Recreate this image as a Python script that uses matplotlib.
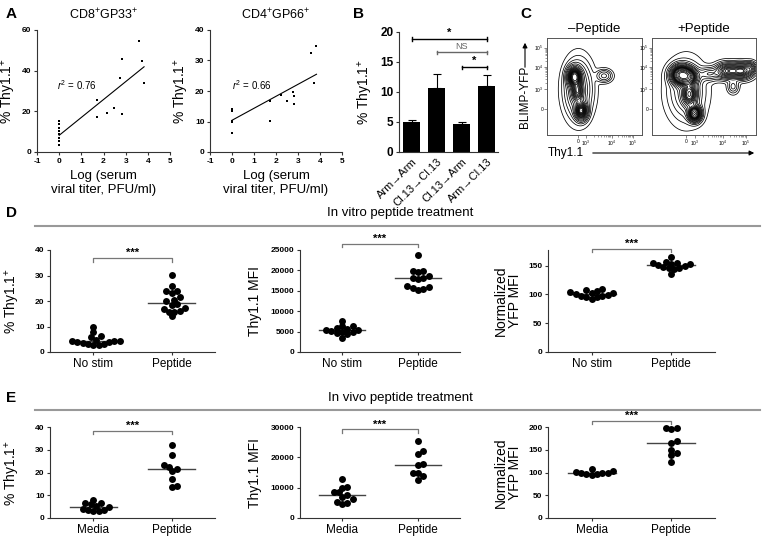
import numpy as np
import matplotlib
matplotlib.use("Agg")
import matplotlib.pyplot as plt
from matplotlib.lines import Line2D
from matplotlib.patches import FancyArrowPatch

plt.rcParams['font.family'] = ['Liberation Sans', 'DejaVu Sans']
plt.rcParams['mathtext.fontset'] = 'custom'
plt.rcParams['mathtext.rm'] = 'Liberation Sans'
plt.rcParams['mathtext.it'] = 'Liberation Sans:italic'

# ---- panel A: viral titer vs % Thy1.1+
cd8_x = [0, 0, 0, 0, 0, 0, 0, 0, 1.69, 1.69, 2.17, 2.48, 2.74, 2.82, 2.82, 3.61, 3.72, 3.83]
cd8_y = [3.5, 5.4, 7.1, 8.7, 10.4, 12.0, 13.7, 15.3, 25.5, 17.0, 19.4, 21.4, 36.5, 45.7, 18.8, 54.6, 44.6, 33.7]
cd8_fit = (8.2, 8.8)        # intercept, slope
cd8_r2 = "0.76"

cd4_x = [0, 0, 0, 0, 0, 1.72, 1.72, 2.21, 2.51, 2.76, 2.82, 2.83, 3.61, 3.72, 3.84]
cd4_y = [14.0, 13.3, 10.2, 9.9, 6.3, 16.8, 10.1, 18.6, 16.7, 19.7, 18.2, 15.9, 32.3, 22.7, 34.7]
cd4_fit = (10.4, 3.93)
cd4_r2 = "0.66"

# ---- panel B: bars
b_labels = ["Arm\u2192Arm", "Cl.13\u2192Cl.13", "Cl.13\u2192Arm", "Arm\u2192Cl.13"]
b_means = [5.0, 10.65, 4.63, 11.05]
b_err = [0.35, 2.3, 0.42, 1.85]
b_sig = [(0, 3, 18.8, "*", "k"), (1, 3, 16.6, "NS", "#666666"), (2, 3, 14.1, "*", "k")]

# ---- panel C: contour populations (x, y, sx, sy, weight) in plot fractions
c_neg = [(0.29, 0.60, 0.04, 0.055, 1.0), (0.32, 0.45, 0.035, 0.06, 0.5),
         (0.36, 0.25, 0.035, 0.05, 0.8), (0.33, 0.47, 0.08, 0.16, 0.2),
         (0.60, 0.61, 0.045, 0.035, 0.12)]
c_pos = [(0.28, 0.62, 0.055, 0.055, 1.0), (0.36, 0.60, 0.05, 0.05, 0.5),
         (0.36, 0.42, 0.04, 0.07, 0.5), (0.41, 0.22, 0.035, 0.045, 0.8),
         (0.33, 0.45, 0.10, 0.17, 0.15), (0.72, 0.66, 0.06, 0.045, 0.45),
         (0.86, 0.66, 0.06, 0.045, 0.5), (0.95, 0.69, 0.03, 0.035, 0.2),
         (0.78, 0.50, 0.03, 0.04, 0.1), (0.55, 0.63, 0.06, 0.04, 0.15)]
c_levels = [0.99, 0.97, 0.94, 0.9, 0.85, 0.8, 0.74, 0.68, 0.62, 0.56, 0.5,
            0.44, 0.38, 0.32, 0.26, 0.2, 0.15, 0.1, 0.06]
c_xticks = [0.33, 0.41, 0.68, 0.90]
c_yticks = [0.27, 0.47, 0.70, 0.90]
c_ticklabels = ["0", "$10^3$", "$10^4$", "$10^5$"]

# ---- panel D: in vitro
d_cats = ["No stim", "Peptide"]
d_pct = [[9.8, 7.7, 6.2, 5.8, 4.7, 4.5, 4.3, 4.2, 3.9, 3.8, 3.6, 3.3, 3.0, 2.9, 2.8],
         [30.3, 25.7, 24.0, 24.0, 23.3, 21.7, 20.5, 20.1, 18.7, 18.6, 17.4, 16.7, 16.2, 15.8, 15.8, 14.0]]
d_mfi = [[7700, 6400, 6300, 5900, 5700, 5500, 5300, 5200, 5000, 4800, 4600, 4300, 3500],
         [23800, 19860, 19860, 19530, 18690, 18100, 18100, 17850, 16160, 16000, 15570, 15400, 15150]]
d_yfp = [[110, 107, 106, 104, 102, 102, 100, 99, 98, 97, 96, 95, 92],
         [165, 157, 155, 154, 153, 152, 151, 150, 148, 146, 145, 144, 135]]

# ---- panel E: in vivo
e_cats = ["Media", "Peptide"]
e_pct = [[8.1, 6.8, 6.4, 6.0, 5.3, 4.8, 3.9, 3.7, 3.5, 3.2, 3.0],
         [32.3, 27.5, 23.3, 22.5, 21.4, 20.5, 17.0, 14.2, 13.5]]
e_mfi = [[12700, 10300, 10000, 8600, 8500, 7500, 7000, 6300, 5200, 5000, 4600],
         [25400, 22100, 21200, 17700, 17600, 15000, 14700, 13700, 12500]]
e_yfp = [[108, 104, 102, 100, 99, 98, 97, 96, 94],
         [198.6, 198.6, 194.6, 169.5, 164.7, 149.2, 143.7, 137.6, 124]]

W, H = 764, 543
fig = plt.figure(figsize=(W / 100, H / 100), dpi=100)


def px_axes(l, t, r, b):
    return fig.add_axes([l / W, 1 - b / H, (r - l) / W, (b - t) / H])


def prism(ax, size=6):
    for s in ['top', 'right']:
        ax.spines[s].set_visible(False)
    for s in ['left', 'bottom']:
        ax.spines[s].set_linewidth(0.8)
        ax.spines[s].set_color('#333333')
    ax.tick_params(length=2.5, width=0.8, labelsize=size, pad=1.5, color='#333333')
    for t in ax.get_xticklabels() + ax.get_yticklabels():
        t.set_fontweight('bold')


def panel_label(x, y, s):
    fig.text(x / W, 1 - y / H, s, fontsize=11, fontweight='heavy', ha='left', va='center')


# ================= A
for (l, r), xs, ys, fit, r2, title, ymax, yt, lab in [
        ((37, 170), cd8_x, cd8_y, cd8_fit, cd8_r2, "CD8$^{+}$GP33$^{+}$", 60, [0, 20, 40, 60], (-0.1, 33)),
        ((210, 342), cd4_x, cd4_y, cd4_fit, cd4_r2, "CD4$^{+}$GP66$^{+}$", 40, [0, 10, 20, 30, 40], (0.0, 22))]:
    ax = px_axes(l, 30, r, 152)
    ax.scatter(xs, ys, marker='s', s=3, c='k', linewidths=0)
    xx = np.array([0, max(xs)])
    ax.plot(xx, fit[0] + fit[1] * xx, color='k', lw=0.8)
    ax.set_xlim(-1, 5)
    ax.set_ylim(0, ymax)
    ax.set_xticks(range(-1, 6))
    ax.set_xticklabels([str(v) for v in range(-1, 6)])
    ax.set_yticks(yt)
    prism(ax)
    ax.text(lab[0], lab[1], "$r^2$ = " + r2, fontsize=7, va='center')
    ax.set_title(title, fontsize=9, pad=8)
    ax.set_ylabel("% Thy1.1$^{+}$", fontsize=10, labelpad=3)
    ax.set_xlabel("Log (serum\nviral titer, PFU/ml)", fontsize=9.5, labelpad=4, linespacing=1.2)
panel_label(6, 14, "A")

# ================= B
ax = px_axes(399, 32, 498, 152)
bx = np.arange(len(b_means))
ax.bar(bx, b_means, width=0.67, color='k',
       yerr=[np.zeros(len(b_err)), b_err], error_kw=dict(ecolor='k', elinewidth=0.8, capsize=3, capthick=0.8))
ax.set_xlim(-0.5, 3.45)
ax.set_ylim(0, 20)
ax.set_yticks([0, 5, 10, 15, 20])
ax.set_xticks(bx)
ax.set_xticklabels(b_labels, rotation=45, ha='right', rotation_mode='anchor')
prism(ax, size=8.5)
for t in ax.get_xticklabels():
    t.set_fontweight('normal')
    t.set_fontsize(8)
ax.tick_params(axis='x', length=0, pad=3)
ax.set_ylabel("% Thy1.1$^{+}$", fontsize=10, labelpad=4)
for i0, i1, yv, txt, col in b_sig:
    ax.plot([i0, i1], [yv, yv], color=col, lw=1.0, clip_on=False)
    ax.plot([i0, i0], [yv - 0.3, yv + 0.3], color=col, lw=1.0, clip_on=False)
    ax.plot([i1, i1], [yv - 0.3, yv + 0.3], color=col, lw=1.0, clip_on=False)
    ax.text((i0 + i1) / 2, yv + 0.2, txt, ha='center', va='bottom',
            fontsize=8 if txt == "*" else 6.5, fontweight='bold' if txt == "*" else 'normal', color=col)
panel_label(353, 14, "B")

# ================= C
gx = np.linspace(0, 1, 240)
GX, GY = np.meshgrid(gx, gx)
for (l, r), pops, title in [((547, 642), c_neg, "\u2013Peptide"), ((652, 756), c_pos, "+Peptide")]:
    ax = px_axes(l, 38, r, 135)
    Z = np.zeros_like(GX)
    for cx, cy, sx, sy, w in pops:
        Z += w * np.exp(-((GX - cx) ** 2 / (2 * sx ** 2) + (GY - cy) ** 2 / (2 * sy ** 2)))
    # probability contours: each level encloses a given share of the density
    zs = np.sort(Z.ravel())[::-1]
    cum = np.cumsum(zs) / zs.sum()
    lev = sorted(set(zs[np.searchsorted(cum, p)] for p in c_levels))
    ax.contour(GX, GY, Z, levels=lev, colors='k', linewidths=0.55)
    ax.set_xlim(0, 1)
    ax.set_ylim(0, 1)
    for s in ax.spines.values():
        s.set_linewidth(0.7)
        s.set_color('#555555')
    ax.set_xticks(c_xticks)
    ax.set_yticks(c_yticks)
    ax.set_xticklabels(c_ticklabels)
    ax.set_yticklabels(c_ticklabels)
    minor = []
    for a, b in zip(c_xticks[1:-1], c_xticks[2:]):
        minor += list(a + (b - a) * np.log10(np.arange(2, 10)))
    ax.set_xticks(minor, minor=True)
    yminor = []
    for a, b in zip(c_yticks[1:-1], c_yticks[2:]):
        yminor += list(a + (b - a) * np.log10(np.arange(2, 10)))
    ax.set_yticks(yminor, minor=True)
    ax.tick_params(which='major', length=2, width=0.5, labelsize=3.5, pad=0.8, color='#555555')
    ax.tick_params(which='minor', length=1.2, width=0.4, color='#555555')
    ax.set_title(title, fontsize=9.5, pad=4)
panel_label(520, 14, "C")
fig.text(525 / W, 1 - 97 / H, "BLIMP-YFP", rotation=90, fontsize=8.5, ha='center', va='center')
fig.add_artist(FancyArrowPatch((525 / W, 1 - 70 / H), (525 / W, 1 - 40 / H),
               transform=fig.transFigure, arrowstyle='-|>', mutation_scale=7, lw=0.8, color='k'))
fig.text(566 / W, 1 - 153 / H, "Thy1.1", fontsize=8.5, ha='center', va='center')
fig.add_artist(FancyArrowPatch((590 / W, 1 - 153 / H), (757 / W, 1 - 153 / H),
               transform=fig.transFigure, arrowstyle='-|>', mutation_scale=7, lw=0.8, color='k'))


# ================= D / E dot plots
def swarm_x(ax, xc, vals, diam):
    pts = ax.transData.transform(np.column_stack([np.full(len(vals), xc), vals]))
    order = np.argsort(vals)
    placed = []
    xs = np.zeros(len(vals))
    cands = [0.0]
    for k in range(1, 30):
        cands += [k * diam * 0.38, -k * diam * 0.38]
    for i in order:
        y = pts[i, 1]
        for dx in cands:
            x = pts[i, 0] + dx
            if all((x - px) ** 2 + (y - py) ** 2 >= (diam * 0.75) ** 2 for px, py in placed):
                break
        placed.append((x, y))
        xs[i] = ax.transData.inverted().transform((x, y))[0]
    return xs


def dotplot(l, t, r, b, groups, cats, ymax, yt, brk, ylab, labx):
    ax = px_axes(l, t, r, b)
    ax.set_xlim(-0.55, 1.55)
    ax.set_ylim(0, ymax)
    ax.set_yticks(yt)
    ax.set_xticks([0, 1])
    ax.set_xticklabels(cats)
    prism(ax)
    for t_ in ax.get_xticklabels():
        t_.set_fontweight('normal')
        t_.set_fontsize(8.5)
    ax.tick_params(axis='x', pad=2)
    for i, vals in enumerate(groups):
        xs = swarm_x(ax, i, vals, 7.0)
        ax.scatter(xs, vals, s=25, c='k', linewidths=0, zorder=3, clip_on=False)
        med = np.median(vals)
        ax.plot([i - 0.3, i + 0.3], [med, med], color='#444444', lw=1.0, zorder=2)
    tick = ymax * 0.035
    ax.plot([0, 0, 1, 1], [brk - tick, brk, brk, brk - tick], color='#777777', lw=0.9, clip_on=False)
    ax.text(0.5, brk, "***", ha='center', va='bottom', fontsize=8, fontweight='bold', clip_on=False)
    ax.set_ylabel(ylab, fontsize=10, linespacing=1.0)
    ax.yaxis.set_label_coords((labx - l) / (r - l), 0.5)
    return ax


def header(yt, yl, txt):
    fig.text(400 / W, 1 - yt / H, txt, ha='center', va='center', fontsize=9.5)
    fig.add_artist(Line2D([35 / W, 760 / W], [1 - yl / H] * 2, color='#999999', lw=1.5))


header(213, 226, "In vitro peptide treatment")
panel_label(6, 213, "D")
dotplot(50, 250, 215, 352, d_pct, d_cats, 40, [0, 10, 20, 30, 40], 36.8, "% Thy1.1$^{+}$", 22)
dotplot(300, 250, 460, 352, d_mfi, d_cats, 25000, [0, 5000, 10000, 15000, 20000, 25000], 26500, "Thy1.1 MFI", 262)
dotplot(548, 250, 715, 352, d_yfp, d_cats, 177, [0, 50, 100, 150], 179, "Normalized\nYFP MFI", 522)

header(398, 410, "In vivo peptide treatment")
panel_label(6, 398, "E")
dotplot(50, 427, 215, 518, e_pct, e_cats, 40, [0, 10, 20, 30, 40], 38.2, "% Thy1.1$^{+}$", 22)
dotplot(300, 427, 460, 518, e_mfi, e_cats, 30000, [0, 10000, 20000, 30000], 29200, "Thy1.1 MFI", 262)
dotplot(548, 427, 715, 518, e_yfp, e_cats, 200, [0, 50, 100, 150, 200], 213, "Normalized\nYFP MFI", 522)

fig.savefig("out.png", dpi=100)
